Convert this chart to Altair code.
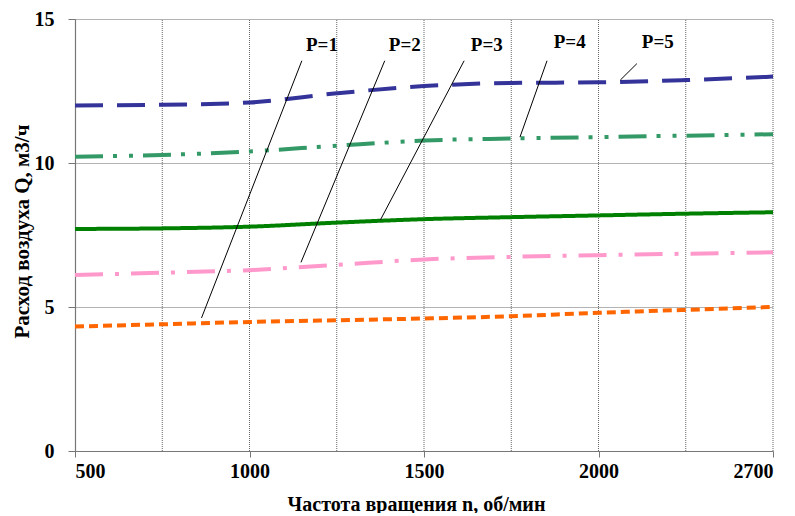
import altair as alt
import pandas as pd

# Category axis (rpm); only some are labelled
rpm = [500, 750, 1000, 1250, 1500, 1750, 2000, 2250, 2700]
rpm_labelled = [500, 1000, 1500, 2000, 2700]

series_names = ["P=1", "P=2", "P=3", "P=4", "P=5"]
q_p1 = [4.32, 4.40, 4.48, 4.54, 4.60, 4.68, 4.80, 4.90, 5.00]
q_p2 = [6.11, 6.19, 6.28, 6.46, 6.65, 6.74, 6.80, 6.85, 6.90]
q_p3 = [7.71, 7.73, 7.79, 7.93, 8.05, 8.12, 8.18, 8.24, 8.29]
q_p4 = [10.22, 10.28, 10.40, 10.60, 10.78, 10.85, 10.90, 10.95, 11.00]
q_p5 = [12.00, 12.02, 12.10, 12.42, 12.67, 12.78, 12.80, 12.88, 13.00]

colors = ["#ff6600", "#ff99cc", "#008000", "#339966", "#333399"]
dashes = [[9, 5], [28, 12, 4, 12], [1, 0], [28, 10, 4, 12, 4, 10], [28, 14]]

# annotation: label position and leader line (category index, Q)
label_x = [2.83, 3.78, 4.72, 5.67, 6.68]
label_y = [14.1, 14.1, 14.1, 14.2, 14.2]
lead_x1 = [2.60, 3.55, 4.46, 5.41, 6.44]
lead_y1 = [13.55, 13.55, 13.55, 13.55, 13.45]
lead_x2 = [1.45, 2.59, 3.50, 5.10, 6.25]
lead_y2 = [4.62, 6.55, 8.02, 10.9, 12.88]

FONT = "Times New Roman, Liberation Serif, serif"

idx = list(range(len(rpm)))
label_map = {i: (str(r) if r in rpm_labelled else "") for i, r in zip(idx, rpm)}
label_expr = "{" + ",".join(f"'{k}':'{v}'" for k, v in label_map.items()) + "}[datum.value]"

rows = []
for name, vals in zip(series_names, [q_p1, q_p2, q_p3, q_p4, q_p5]):
    for i, v in zip(idx, vals):
        rows.append({"series": name, "i": i, "q": v})
df = pd.DataFrame(rows)

xscale = alt.Scale(domain=[0, len(rpm) - 1], nice=False, zero=False)
yscale = alt.Scale(domain=[0, 15], nice=False)

grid_df = pd.DataFrame({"i": idx[1:], "y0": [0] * (len(idx) - 1), "y1": [15] * (len(idx) - 1)})
vgrid = alt.Chart(grid_df).mark_rule(color="#666", strokeDash=[1, 1], strokeWidth=1).encode(
    x=alt.X("i:Q", scale=xscale,
            axis=alt.Axis(values=[i for i, r in zip(idx, rpm) if r in rpm_labelled],
                          labelExpr=label_expr, grid=False,
                          title="Частота вращения n, об/мин")),
    y=alt.Y("y0:Q", scale=yscale),
    y2="y1:Q",
)

layers = [vgrid]
for name, c, d in zip(series_names, colors, dashes):
    layers.append(
        alt.Chart(df[df.series == name]).mark_line(
            color=c, strokeWidth=4, strokeDash=d, interpolate="monotone", strokeCap="butt"
        ).encode(
            x=alt.X("i:Q", scale=xscale),
            y=alt.Y("q:Q", scale=yscale,
                    axis=alt.Axis(values=[0, 5, 10, 15], title="Расход воздуха Q, м3/ч")),
        )
    )

ann = pd.DataFrame({"name": series_names, "lx": label_x, "ly": label_y,
                    "x1": lead_x1, "y1": lead_y1, "x2": lead_x2, "y2": lead_y2})
leaders = alt.Chart(ann).mark_rule(color="black", strokeWidth=1).encode(
    x=alt.X("x1:Q", scale=xscale), y=alt.Y("y1:Q", scale=yscale), x2="x2:Q", y2="y2:Q"
)
texts = alt.Chart(ann).mark_text(font=FONT, fontWeight="bold", fontSize=19, color="black").encode(
    x=alt.X("lx:Q", scale=xscale), y=alt.Y("ly:Q", scale=yscale), text="name:N"
)
layers += [leaders, texts]

chart = alt.layer(*layers).properties(
    width=698, height=432,
    autosize=alt.AutoSizeParams(type="none"),
    padding={"left": 67, "top": 11, "right": 14, "bottom": 62},
).configure_view(stroke=None).configure_axis(
    labelFont=FONT, labelFontWeight="bold", labelFontSize=20, labelColor="black",
    titleFont=FONT, titleFontWeight="bold", titleFontSize=20, titleColor="black",
    domainColor="#777", tickColor="#777", domainWidth=1.2,
    gridColor="#666", gridDash=[1, 1], gridWidth=1,
).configure_axisY(
    grid=True, tickSize=7, labelPadding=14, titleX=-53, titleY=212,
    titleBaseline="middle", titleAngle=-90, titleFontSize=21,
).configure_axisX(
    tickSize=6, labelPadding=4, titleY=53, titleX=341, titleBaseline="middle",
)

chart.save("out.html", embed_options={"renderer": "svg", "actions": False})
